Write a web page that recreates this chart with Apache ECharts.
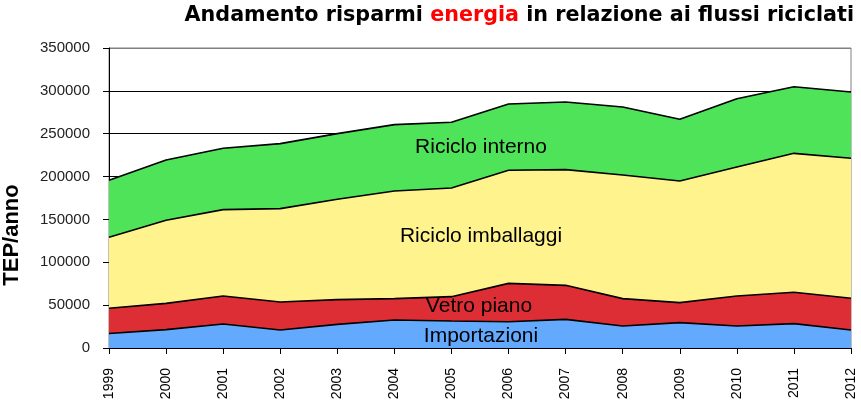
<!DOCTYPE html>
<html><head><meta charset="utf-8">
<script src="https://cdn.jsdelivr.net/npm/echarts@6/dist/echarts.min.js"></script>
<style>html,body{margin:0;padding:0;background:#fff}#c{width:861px;height:403px}</style>
</head><body><div id="c"></div>
<script>
var years = ['1999','2000','2001','2002','2003','2004','2005','2006','2007','2008','2009','2010','2011','2012'];
var importazioni = [17000, 21400, 28000, 21000, 27600, 32700, 31500, 30700, 33400, 25700, 29600, 25700, 28400, 21000];
var vetroPiano = [29300, 30700, 32700, 32700, 28800, 24900, 28400, 44700, 39700, 31900, 23300, 35000, 36600, 37000];
var ricicloImballaggi = [82800, 96900, 100700, 108900, 117100, 125600, 126800, 131900, 135000, 144200, 141900, 150500, 162100, 163300];
var ricicloInterno = [66500, 70300, 71600, 75800, 76600, 77400, 76600, 77400, 78900, 79400, 72000, 79600, 77700, 77400];
var seriesNames = ['Importazioni', 'Vetro piano', 'Riciclo imballaggi', 'Riciclo interno'];
var colors = ['#63aaff', '#de2e35', '#fff38e', '#4fe35a'];

var chart = echarts.init(document.getElementById('c'), null, {renderer: 'canvas'});
function mk(i, data) {
  return {
    name: seriesNames[i], type: 'line', stack: 'tot', data: data,
    symbol: 'none', smooth: false,
    lineStyle: {color: '#000', width: 1.6},
    areaStyle: {color: colors[i], opacity: 1},
    itemStyle: {color: colors[i]}
  };
}
var labelFont = 'Liberation Sans, Arial, sans-serif';
chart.setOption({
  animation: false,
  backgroundColor: '#fff',
  title: {
    text: '{b|Andamento risparmi }{r|energia}{b| in relazione ai flussi riciclati}',
    right: 2, top: 0,
    textStyle: {
      rich: {
        b: {fontFamily: 'DejaVu Sans', fontWeight: 'bold', fontSize: 20.7, color: '#000'},
        r: {fontFamily: 'DejaVu Sans', fontWeight: 'bold', fontSize: 20.7, color: '#ff0000'}
      }
    }
  },
  grid: {left: 109, right: 10, top: 48, bottom: 55, show: true, borderColor: '#808080', borderWidth: 1},
  xAxis: {
    type: 'category', data: years, boundaryGap: false,
    axisLine: {lineStyle: {color: '#000', width: 1}},
    axisTick: {show: true, length: 6, interval: 0, lineStyle: {color: '#000'}},
    axisLabel: {rotate: 90, margin: 20, fontSize: 14, color: '#000', fontFamily: labelFont, interval: 0},
    splitLine: {show: false}
  },
  yAxis: {
    type: 'value', min: 0, max: 350000, interval: 50000,
    axisLine: {show: true, lineStyle: {color: '#000', width: 1}},
    axisTick: {show: true, length: 6, lineStyle: {color: '#000'}},
    axisLabel: {margin: 19, fontSize: 15, color: '#222', fontFamily: labelFont,
      formatter: function (v) { return String(v); }},
    splitLine: {show: true, lineStyle: {color: ['#000','#000','#000','#000','#000','#000','#000','#808080'], width: 1}}
  },
  graphic: [
    {type: 'text', x: 12, y: 235, rotation: Math.PI / 2,
     style: {text: 'TEP/anno', fontFamily: labelFont, fontWeight: 'bold', fontSize: 22, fill: '#000', align: 'center', verticalAlign: 'middle'}},
    {type: 'text', x: 481, y: 147, z: 100,
     style: {text: 'Riciclo interno', fontFamily: labelFont, fontSize: 21, fill: '#000', align: 'center', verticalAlign: 'middle'}},
    {type: 'text', x: 481, y: 236, z: 100,
     style: {text: 'Riciclo imballaggi', fontFamily: labelFont, fontSize: 21, fill: '#000', align: 'center', verticalAlign: 'middle'}},
    {type: 'text', x: 479, y: 306, z: 100,
     style: {text: 'Vetro piano', fontFamily: labelFont, fontSize: 21, fill: '#000', align: 'center', verticalAlign: 'middle'}},
    {type: 'text', x: 481, y: 336, z: 100,
     style: {text: 'Importazioni', fontFamily: labelFont, fontSize: 21, fill: '#000', align: 'center', verticalAlign: 'middle'}}
  ],
  series: [mk(0, importazioni), mk(1, vetroPiano), mk(2, ricicloImballaggi), mk(3, ricicloInterno)]
});
</script></body></html>
